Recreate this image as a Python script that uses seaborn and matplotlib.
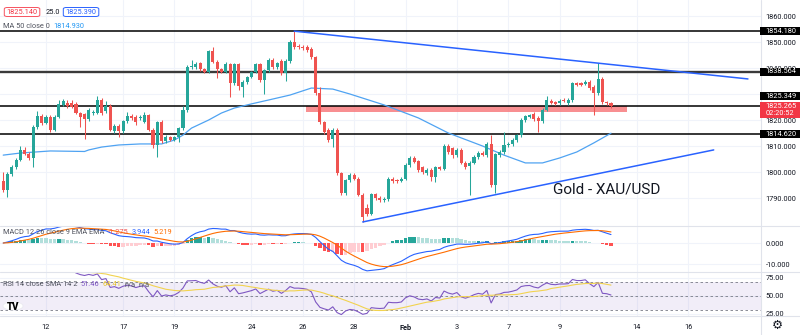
import matplotlib
matplotlib.use("Agg")
import matplotlib.pyplot as plt
from matplotlib.patches import Rectangle, FancyBboxPatch, Circle
from matplotlib.lines import Line2D
from matplotlib.ticker import FormatStrFormatter
import numpy as np
import pandas as pd
import seaborn as sns

sns.set_theme(style="white")
plt.rcParams['font.family'] = ['Roboto', 'DejaVu Sans']

# ---------------- data (4h candles) ----------------
opens = [1796.5, 1793.1, 1799.2, 1801.9, 1804.6, 1808.5, 1806.9, 1805.4, 1817.3, 1821.5,
         1818.9, 1821.2, 1816.2, 1821.2, 1825.8, 1826.6, 1826.5, 1826.2, 1822.7, 1822.3,
         1820.4, 1822.7, 1822.7, 1827.7, 1823.5, 1825.4, 1815.8, 1817.7, 1815.8, 1819.6,
         1821.5, 1821.2, 1820.8, 1819.2, 1821.9, 1816.2, 1810.4, 1819.2, 1811.9, 1813.5,
         1812.3, 1813.5, 1816.9, 1823.9, 1840.4, 1840.4, 1841.9, 1839.6, 1838.5, 1846.5,
         1842.3, 1839.6, 1838.5, 1841.5, 1834.2, 1841.5, 1832.7, 1834.6, 1836.6, 1838.5,
         1841.5, 1835.4, 1839.2, 1843.1, 1840.4, 1842.7, 1838.1, 1842.7, 1850.0, 1848.5,
         1848.1, 1848.1, 1847.3, 1844.2, 1830.4, 1819.2, 1816.2, 1812.7, 1816.2, 1799.6,
         1791.9, 1796.9, 1798.9, 1797.3, 1791.2, 1786.2, 1783.9, 1791.5, 1790.0, 1789.2,
         1789.6, 1797.3, 1796.9, 1796.5, 1797.3, 1802.7, 1805.4, 1804.2, 1801.9, 1799.6,
         1800.8, 1798.1, 1801.9, 1801.2, 1810.0, 1809.2, 1806.5, 1808.5, 1803.5, 1802.3,
         1803.5, 1805.8, 1807.3, 1806.5, 1810.8, 1795.0, 1806.5, 1807.7, 1810.4, 1810.8,
         1812.3, 1814.2, 1820.0, 1821.2, 1822.3, 1820.8, 1819.6, 1823.9, 1827.3, 1826.9,
         1826.5, 1827.7, 1826.5, 1827.7, 1834.2, 1834.2, 1833.9, 1834.6, 1832.7, 1830.4,
         1835.8, 1826.9, 1826.5]
highs = [1800.0, 1800.0, 1802.7, 1805.4, 1810.0, 1809.6, 1807.7, 1818.1, 1823.5, 1822.3,
         1822.0, 1822.0, 1821.9, 1827.7, 1828.1, 1827.7, 1827.7, 1826.9, 1823.1, 1822.7,
         1824.6, 1823.9, 1829.2, 1828.5, 1827.3, 1826.2, 1818.5, 1818.3, 1820.2, 1823.1,
         1822.3, 1821.8, 1821.8, 1823.1, 1822.5, 1816.9, 1819.8, 1820.0, 1814.2, 1814.0,
         1814.0, 1817.5, 1825.4, 1841.0, 1843.1, 1842.3, 1842.5, 1840.0, 1847.0, 1848.1,
         1842.9, 1840.0, 1842.3, 1842.1, 1842.1, 1842.1, 1835.2, 1837.1, 1839.0, 1842.1,
         1842.1, 1839.8, 1843.7, 1843.7, 1842.5, 1843.3, 1843.3, 1850.6, 1854.18, 1849.2,
         1848.7, 1848.7, 1847.9, 1844.8, 1832.7, 1819.8, 1816.9, 1816.9, 1816.9, 1800.2,
         1797.5, 1799.5, 1799.5, 1797.9, 1791.8, 1787.7, 1792.1, 1792.1, 1790.6, 1790.3,
         1797.9, 1797.9, 1797.5, 1797.9, 1803.3, 1806.0, 1806.0, 1804.8, 1802.5, 1801.4,
         1801.4, 1802.5, 1802.5, 1810.6, 1810.6, 1809.8, 1809.1, 1809.1, 1804.1, 1804.1,
         1806.4, 1807.9, 1807.9, 1811.4, 1814.2, 1807.5, 1808.3, 1815.4, 1811.4, 1812.9,
         1814.8, 1820.6, 1821.8, 1822.5, 1822.9, 1821.4, 1824.5, 1829.2, 1827.9, 1827.5,
         1827.9, 1828.3, 1828.3, 1834.8, 1834.8, 1834.8, 1835.2, 1835.2, 1833.3, 1841.9,
         1836.4, 1827.5, 1827.1]
lows = [1792.3, 1790.4, 1798.5, 1801.2, 1804.2, 1806.5, 1804.6, 1801.9, 1816.5, 1818.1,
        1818.3, 1815.4, 1815.6, 1820.6, 1825.2, 1824.8, 1824.6, 1822.3, 1817.3, 1812.7,
        1819.6, 1822.0, 1822.3, 1822.0, 1822.7, 1815.6, 1815.0, 1813.5, 1815.2, 1819.0,
        1820.2, 1818.1, 1820.2, 1818.9, 1815.8, 1809.2, 1805.8, 1811.2, 1811.2, 1811.8,
        1811.8, 1811.5, 1816.2, 1823.1, 1839.6, 1839.8, 1839.0, 1838.0, 1837.9, 1841.9,
        1836.2, 1838.1, 1838.0, 1828.9, 1833.5, 1831.5, 1828.9, 1834.0, 1836.0, 1837.9,
        1834.8, 1830.0, 1838.6, 1839.8, 1839.8, 1837.5, 1835.0, 1842.1, 1847.5, 1847.5,
        1847.0, 1846.3, 1843.6, 1829.8, 1818.6, 1814.8, 1811.6, 1809.6, 1799.0, 1791.3,
        1791.2, 1796.3, 1796.8, 1790.6, 1780.8, 1782.9, 1783.3, 1789.4, 1788.6, 1788.6,
        1789.0, 1795.9, 1795.9, 1796.0, 1796.8, 1802.1, 1803.3, 1800.2, 1799.4, 1799.0,
        1796.5, 1796.0, 1800.6, 1800.6, 1807.1, 1805.4, 1805.9, 1802.9, 1801.3, 1791.2,
        1802.9, 1805.2, 1806.0, 1805.9, 1794.4, 1791.9, 1805.9, 1807.1, 1809.8, 1810.2,
        1811.7, 1813.6, 1819.4, 1820.6, 1819.8, 1815.4, 1819.0, 1823.3, 1826.0, 1825.6,
        1825.9, 1826.8, 1825.9, 1827.1, 1832.9, 1832.9, 1833.3, 1831.7, 1821.9, 1829.8,
        1826.3, 1825.9, 1824.7]
closes = [1793.1, 1799.2, 1801.9, 1804.6, 1808.5, 1806.9, 1805.4, 1817.3, 1821.5, 1818.9,
          1821.2, 1816.2, 1821.2, 1826.2, 1827.3, 1825.4, 1825.0, 1822.7, 1821.2, 1820.4,
          1823.9, 1823.1, 1827.7, 1822.7, 1825.4, 1816.2, 1817.7, 1815.8, 1819.6, 1821.5,
          1820.8, 1819.2, 1821.2, 1821.9, 1816.2, 1810.4, 1819.2, 1811.9, 1813.5, 1812.3,
          1813.5, 1816.9, 1823.9, 1840.4, 1840.8, 1841.5, 1839.6, 1838.5, 1846.5, 1842.3,
          1839.6, 1838.5, 1841.5, 1834.2, 1841.5, 1833.1, 1834.6, 1836.6, 1838.5, 1841.5,
          1835.4, 1839.2, 1843.1, 1840.4, 1841.9, 1838.1, 1842.7, 1850.0, 1848.1, 1848.1,
          1847.7, 1846.9, 1844.2, 1830.4, 1819.2, 1815.4, 1812.3, 1816.2, 1799.6, 1791.9,
          1796.9, 1798.9, 1797.3, 1791.2, 1782.7, 1783.9, 1791.5, 1790.0, 1789.2, 1789.6,
          1797.3, 1796.5, 1796.5, 1797.3, 1802.7, 1805.4, 1803.9, 1800.8, 1800.0, 1800.8,
          1798.1, 1801.9, 1801.2, 1810.0, 1807.7, 1806.5, 1808.5, 1803.5, 1801.9, 1803.5,
          1805.8, 1807.3, 1806.5, 1810.8, 1795.0, 1806.9, 1807.7, 1810.4, 1810.8, 1812.3,
          1814.2, 1820.0, 1821.5, 1821.9, 1820.4, 1819.6, 1823.9, 1827.7, 1826.5, 1826.2,
          1827.3, 1827.3, 1827.7, 1834.2, 1833.5, 1833.5, 1834.6, 1832.3, 1830.4, 1835.8,
          1826.9, 1826.5, 1825.27]

# MA 50 line (candle index, value)
ma_idx = [0, 4, 11, 19, 20, 23, 27, 32, 37, 40, 42, 44, 48, 51, 54, 58, 62, 67, 72, 77,
          81, 89, 97, 104, 112, 117, 122, 126, 130, 134, 138, 142]
ma_val = [1806.5, 1807.3, 1808.1, 1807.9, 1808.5, 1809.6, 1810.4, 1810.8, 1810.8, 1812.3,
          1814.2, 1816.9, 1820.0, 1822.7, 1824.6, 1826.2, 1827.7, 1829.6, 1832.3, 1831.9,
          1830.0, 1825.8, 1820.8, 1815.0, 1810.0, 1806.5, 1803.5, 1803.5, 1805.4, 1807.7,
          1811.2, 1814.93]

levels = [1854.18, 1838.564, 1825.349, 1814.62]
level_labels = ['1854.180', '1838.564', '1825.349', '1814.620']
last_price = 1825.265
zone_x = [70.7, 145.8]
zone_y = [1823.2, 1825.35]
trend_down_x = [68, 174]
trend_down_y = [1854.18, 1835.8]
trend_up_x = [84, 166]
trend_up_y = [1780.8, 1808.5]

date_idx = [10, 28, 40, 58, 70, 82, 94, 106, 118, 130, 148, 160]
date_labels = ['12', '17', '19', '24', '26', '28', 'Feb', '3', '7', '9', '14', '16']
price_ticks = [1790, 1800, 1810, 1820, 1830, 1840, 1850, 1860]

# ---------------- indicators ----------------
cl = pd.Series(closes)
ema12 = cl.ewm(span=12, adjust=False).mean()
ema26 = cl.ewm(span=26, adjust=False).mean()
macd = ema12 - ema26
signal = macd.ewm(span=9, adjust=False).mean()
hist = macd - signal
delta = cl.diff()
gain = delta.clip(lower=0)
loss = -delta.clip(upper=0)
ag = gain.ewm(alpha=1/14, adjust=False, min_periods=14).mean()
al = loss.ewm(alpha=1/14, adjust=False, min_periods=14).mean()
rsi = 100 - 100 / (1 + ag / al)
rsi_ma = rsi.rolling(14, min_periods=1).mean()

# ---------------- figure ----------------
W, H = 800, 335
fig = plt.figure(figsize=(W/100, H/100), dpi=100)
fig.patch.set_facecolor('white')

def fax(x0, y_top, x1, y_bot):
    return fig.add_axes([x0/W, 1 - y_bot/H, (x1 - x0)/W, (y_bot - y_top)/H])

ax = fax(0, 0, 761, 226)
axm = fax(0, 226, 761, 272)
axr = fax(0, 272, 761, 316)

XMIN, XMAX = -0.75, 177.05
GRID = '#f0f3fa'
TXT = '#131722'
SMALL = 5.3
for a in (ax, axm, axr):
    a.set_xlim(XMIN, XMAX)
    a.set_facecolor('white')
    for s in a.spines.values():
        s.set_visible(False)
    a.set_xticks(date_idx)
    a.yaxis.tick_right()
    a.tick_params(axis='both', length=0, labelsize=SMALL, labelcolor=TXT, pad=3.4)
    a.grid(True, color=GRID, lw=0.8)
    a.set_axisbelow(True)
ax.set_xticklabels([])
axm.set_xticklabels([])
axr.set_xticklabels(date_labels)
axr.tick_params(axis='x', pad=5.5, labelsize=SMALL)
for t in axr.get_xticklabels():
    if t.get_text() == 'Feb':
        t.set_fontweight('bold')

# main panel
YMIN, YMAX = 1779.24, 1866.16
ax.set_ylim(YMIN, YMAX)
ax.set_yticks(price_ticks)
ax.yaxis.set_major_formatter(FormatStrFormatter('%.3f'))

idx = np.arange(len(closes))
o = np.array(opens); c = np.array(closes)
up = c >= o
col = np.where(up, '#26a69a', '#ef5350')
ax.add_patch(Rectangle((zone_x[0], zone_y[0]), zone_x[1] - zone_x[0], zone_y[1] - zone_y[0],
                       facecolor='#f77b7e', alpha=0.85, lw=0, zorder=2))
ax.vlines(idx, lows, highs, colors=col, lw=0.75, zorder=4)
ax.bar(idx, np.maximum(np.abs(c - o), 0.35), bottom=np.minimum(o, c), width=0.72,
       color=col, lw=0, zorder=5)

for lv in levels:
    if lv == 1838.564:
        ax.axhline(lv, color='#3a3a3a', lw=1.7, zorder=3)
    else:
        ax.axhline(lv, color='black', lw=1.1, zorder=3)

sns.lineplot(x=ma_idx, y=ma_val, ax=ax, color='#4fa3f2', lw=0.9, sort=False,
             estimator=None, zorder=3)
sns.lineplot(x=trend_down_x, y=trend_down_y, ax=ax, color='#2962ff', lw=1.1,
             sort=False, estimator=None, zorder=6)
sns.lineplot(x=trend_up_x, y=trend_up_y, ax=ax, color='#2962ff', lw=1.1,
             sort=False, estimator=None, zorder=6)
ax.text(128.5, 1793.1, 'Gold - XAU/USD', fontsize=11, color=TXT, ha='left',
        va='center', zorder=7)

# MACD panel
axm.set_ylim(-13.8, 8.1)
axm.set_yticks([0, -10])
axm.yaxis.set_major_formatter(FormatStrFormatter('%.3f'))
hcol = []
prev = 0.0
for h in hist:
    if h >= 0:
        hcol.append('#26a69a' if h > prev else '#b2dfdb')
    else:
        hcol.append('#ffcdd2' if h > prev else '#ff5252')
    prev = h
axm.bar(idx, hist, width=0.8, color=hcol, lw=0, zorder=2)
sns.lineplot(x=idx, y=macd.values, ax=axm, color='#2962ff', lw=0.8, sort=False,
             estimator=None, zorder=3)
sns.lineplot(x=idx, y=signal.values, ax=axm, color='#ff6d00', lw=0.8, sort=False,
             estimator=None, zorder=3)

# RSI panel
axr.set_ylim(22.2, 83.3)
axr.set_yticks([25, 50, 75])
axr.yaxis.set_major_formatter(FormatStrFormatter('%.2f'))
axr.axhspan(30, 70, color='#7e57c2', alpha=0.1, lw=0, zorder=1)
for lv in (70, 50, 30):
    axr.axhline(lv, color='#787b86', lw=0.6, ls=(0, (3, 3)), zorder=2)
sns.lineplot(x=idx, y=rsi.values, ax=axr, color='#7e57c2', lw=0.8, sort=False,
             estimator=None, zorder=3)
sns.lineplot(x=idx, y=rsi_ma.values, ax=axr, color='#f2d34f', lw=0.8, sort=False,
             estimator=None, zorder=3)
for a in (ax, axm, axr):
    leg = a.get_legend()
    if leg:
        leg.remove()
    a.set_xlabel(''); a.set_ylabel('')

# separators
SEP = '#e0e3eb'
for yy in (226, 272, 316):
    fig.add_artist(Line2D([0, 1], [1 - yy/H, 1 - yy/H], color=SEP, lw=0.8,
                          transform=fig.transFigure))
fig.add_artist(Line2D([761/W, 761/W], [0, 1], color=SEP, lw=0.8, transform=fig.transFigure))

# price label boxes
def ypx(p):
    return (YMAX - p) / (YMAX - YMIN) * 226

def box(ytop, h, color):
    fig.add_artist(Rectangle((760/W, 1 - (ytop + h)/H), 40/W, h/H, facecolor=color,
                             edgecolor='none', transform=fig.transFigure, zorder=5))

def ftext(x, y, s, **kw):
    return fig.text(x/W, 1 - y/H, s, **kw)

for lv, lab in zip(levels, level_labels):
    yc = ypx(lv)
    if lab == '1825.349':
        yc -= 9.7
    box(yc - 4, 8, 'black')
    ftext(765.5, yc, lab, color='white', fontsize=SMALL, ha='left', va='center', zorder=6)
yc = ypx(last_price)
box(yc - 4, 16, '#f23645')
ftext(765.5, yc, '1825.265', color='white', fontsize=SMALL, ha='left', va='center', zorder=6)
ftext(765.5, yc + 7.5, '02:20:52', color='white', fontsize=SMALL, ha='left', va='center', zorder=6)

# header
fig.add_artist(FancyBboxPatch((4.3/W, 1 - 16.5/H), 35.5/W, 9/H,
                              boxstyle='round,pad=0,rounding_size=0.004',
                              facecolor='white', edgecolor='#f7525f', lw=0.7,
                              transform=fig.transFigure, zorder=5))
ftext(22, 12, '1825.140', color='#f23645', fontsize=SMALL, ha='center', va='center', zorder=6)
ftext(45.5, 12, '25.0', color=TXT, fontsize=SMALL, ha='left', va='center', zorder=6)
fig.add_artist(FancyBboxPatch((63.3/W, 1 - 16.5/H), 35.5/W, 9/H,
                              boxstyle='round,pad=0,rounding_size=0.004',
                              facecolor='white', edgecolor='#2962ff', lw=0.7,
                              transform=fig.transFigure, zorder=5))
ftext(81, 12, '1825.390', color='#2962ff', fontsize=SMALL, ha='center', va='center', zorder=6)

renderer = fig.canvas.get_renderer()

def seq(x, y, parts, gap=3.0):
    for s, cc in parts:
        t = ftext(x, y, s, color=cc, fontsize=SMALL, ha='left', va='center', zorder=6)
        x += t.get_window_extent(renderer).width + gap

seq(3.3, 26.5, [('MA 50 close 0', '#50535e'), ('1814.930', '#2196f3')])
seq(3.3, 233, [('MACD 12 26 close 9 EMA EMA', '#50535e'), ('-1.275', '#ef5350'),
               ('3.944', '#2962ff'), ('5.219', '#ff6d00')])
seq(3.3, 285, [('RSI 14 close SMA 14 2', '#50535e'), ('51.46', '#7e57c2'),
               ('64.41', '#e6c229'), ('n/a', '#50535e'), ('n/a', '#50535e')])

# TradingView logo & settings gear
fig.add_artist(Circle((13/W, 1 - 306/H), 10/W, facecolor='white', edgecolor='#e8e8ee',
                      lw=0.5, transform=fig.transFigure, zorder=7))
ftext(13, 306.5, 'TV', color='black', fontsize=7, fontweight='heavy', ha='center',
      va='center', zorder=8)
fig.text(777/W, 1 - 325/H, '\u2699', fontsize=9, color=TXT, ha='center', va='center',
         family=['DejaVu Sans'])

fig.savefig('out.png', dpi=100, facecolor='white')
